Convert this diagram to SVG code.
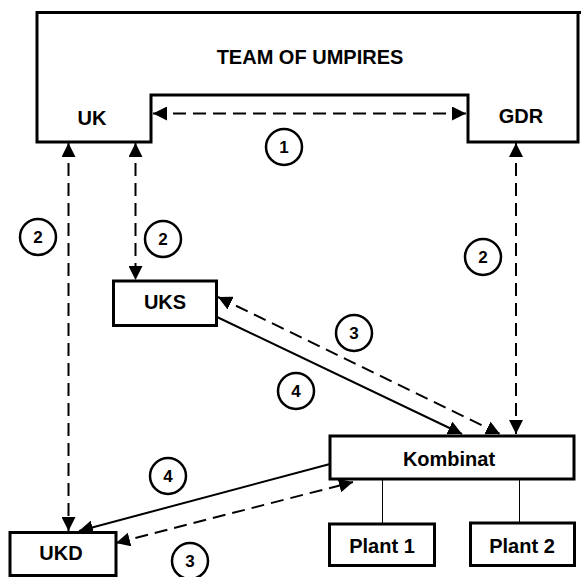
<svg xmlns="http://www.w3.org/2000/svg" width="581" height="577" viewBox="0 0 581 577">
  <style>
    .box { fill: #fff; stroke: #000; stroke-width: 3; }
    .lbl { font-family: "Liberation Sans", Arial, sans-serif; font-weight: bold; font-size: 20px; fill: #000; text-anchor: middle; }
    .num { font-family: "Liberation Sans", Arial, sans-serif; font-weight: bold; font-size: 17px; fill: #000; text-anchor: middle; }
    .ring { fill: #fff; stroke: #000; stroke-width: 2.5; }
    .dash { fill: none; stroke: #000; stroke-width: 2; stroke-dasharray: 13 7; }
    .solid { fill: none; stroke: #000; stroke-width: 2; }
    .thin { fill: none; stroke: #000; stroke-width: 1; }
  </style>
  <defs>
    <marker id="head" viewBox="0 0 14 14" refX="14" refY="7" markerWidth="14" markerHeight="14" markerUnits="userSpaceOnUse" orient="auto-start-reverse">
      <path d="M0,0 L14,7 L0,14 Z" fill="#000"/>
    </marker>
  </defs>

  <rect width="581" height="577" fill="#fff"/>

  <!-- Team of umpires with its UK and GDR wings -->
  <g id="umpires">
    <path class="box" d="M37,12.5 H578 V142 H468 V95 H151 V142 H37 Z"/>
    <line x1="578" y1="12.5" x2="581" y2="12.5" stroke="#000" stroke-width="3"/>
    <text class="lbl" x="310" y="64">TEAM OF UMPIRES</text>
    <text class="lbl" x="92" y="125">UK</text>
    <text class="lbl" x="521" y="123">GDR</text>
  </g>

  <g id="uks">
    <rect class="box" x="113.5" y="281" width="103" height="44.5"/>
    <text class="lbl" x="165" y="309">UKS</text>
  </g>

  <g id="kombinat">
    <rect class="box" x="330" y="436" width="244" height="43"/>
    <text class="lbl" x="449" y="466">Kombinat</text>
  </g>

  <g id="ukd">
    <rect class="box" x="10" y="532.5" width="106" height="43"/>
    <text class="lbl" x="61" y="560">UKD</text>
  </g>

  <g id="plant1">
    <rect class="box" x="329.5" y="524" width="105" height="41.5"/>
    <text class="lbl" x="382" y="553">Plant 1</text>
  </g>

  <g id="plant2">
    <rect class="box" x="470.5" y="523" width="104" height="42.5"/>
    <text class="lbl" x="522" y="553">Plant 2</text>
  </g>

  <!-- connectors -->
  <g id="connectors">
    <line class="dash" x1="153" y1="113.5" x2="466" y2="113.5" marker-start="url(#head)" marker-end="url(#head)"/>
    <line class="dash" x1="68.5" y1="143" x2="68.5" y2="531" marker-start="url(#head)" marker-end="url(#head)"/>
    <line class="dash" x1="135.5" y1="143" x2="135.5" y2="280" marker-start="url(#head)" marker-end="url(#head)"/>
    <line class="dash" x1="516" y1="143" x2="516" y2="434" marker-start="url(#head)" marker-end="url(#head)"/>
    <line class="dash" x1="218" y1="297" x2="500" y2="434" marker-start="url(#head)" marker-end="url(#head)"/>
    <line class="solid" x1="217" y1="317" x2="462" y2="434" marker-end="url(#head)"/>
    <line class="solid" x1="330" y1="464" x2="79" y2="531" marker-end="url(#head)"/>
    <line class="dash" x1="116" y1="543" x2="353" y2="482" marker-start="url(#head)" marker-end="url(#head)"/>
    <line class="thin" x1="382.5" y1="479" x2="382.5" y2="524"/>
    <line class="thin" x1="519.5" y1="479" x2="519.5" y2="523"/>
  </g>

  <!-- step numbers -->
  <g id="steps">
    <circle class="ring" cx="284" cy="147" r="18"/>
    <text class="num" x="284" y="153">1</text>
    <circle class="ring" cx="38" cy="237" r="18"/>
    <text class="num" x="38" y="243">2</text>
    <circle class="ring" cx="163" cy="239" r="18"/>
    <text class="num" x="163" y="245">2</text>
    <circle class="ring" cx="483" cy="257" r="18"/>
    <text class="num" x="483" y="263">2</text>
    <circle class="ring" cx="354" cy="333" r="18"/>
    <text class="num" x="354" y="339">3</text>
    <circle class="ring" cx="296" cy="391" r="18"/>
    <text class="num" x="296" y="397">4</text>
    <circle class="ring" cx="168" cy="476" r="18"/>
    <text class="num" x="168" y="482">4</text>
    <circle class="ring" cx="190" cy="561" r="18"/>
    <text class="num" x="190" y="567">3</text>
  </g>
</svg>
